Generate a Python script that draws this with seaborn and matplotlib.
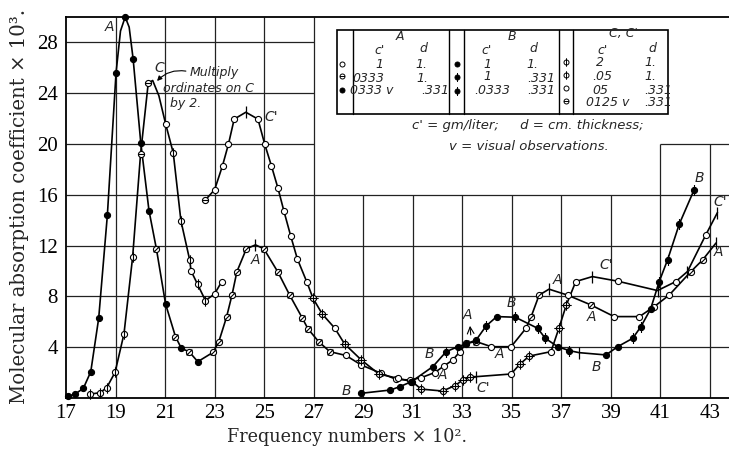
import matplotlib
matplotlib.use("Agg")
import matplotlib.pyplot as plt
import numpy as np
import pandas as pd
import seaborn as sns
from matplotlib.path import Path
from matplotlib.patches import Rectangle
from matplotlib.lines import Line2D

# ---------------- data ----------------
# marker codes: f filled, o open, s slashed circle, h barred circle, p circle+vertical tick,
# x circle+cross ticks, t filled+tick, n tick only, "-" curve point without mark
# Curve A
a_x = [17.1, 17.36, 17.7, 18.0, 18.32, 18.67, 19.02, 19.2, 19.39, 19.55, 19.71, 20.02, 20.35,
       20.65, 21.02, 21.42, 21.66, 21.97, 22.32, 22.94, 23.17, 23.48, 23.7, 23.9, 24.28, 24.65,
       24.99, 25.56, 26.03, 26.53, 26.77, 27.2, 27.65, 28.3, 28.92, 29.73, 30.33, 30.87,
       31.34, 31.88, 32.28, 32.62, 32.9, 33.15, 33.56, 34.17, 34.97, 35.57, 35.78, 36.1,
       36.5, 37.25, 38.19, 39.13, 40.15, 40.75, 41.35, 42.23, 42.7, 43.24]
a_y = [0.16, 0.3, 0.76, 2.07, 6.28, 14.4, 25.6, 28.9, 30.0, 29.2, 26.7, 20.07, 14.76,
       11.74, 7.4, 4.83, 3.9, 3.65, 2.86, 3.6, 4.44, 6.36, 8.1, 9.95, 11.74, 12.06,
       11.74, 9.9, 8.1, 6.33, 5.44, 4.44, 3.65, 3.35, 2.6, 1.94, 1.47, 1.42,
       1.6, 2.0, 2.55, 3.0, 3.65, 4.3, 4.44, 4.04, 4.04, 5.49, 6.41, 8.1,
       8.57, 8.1, 7.33, 6.41, 6.41, 7.2, 8.1, 9.96, 10.87, 12.2]
a_m = ["f", "f", "f", "f", "f", "f", "f", "-", "f", "-", "f", "f", "f",
       "s", "f", "s", "f", "s", "f", "s", "s", "s", "s", "s", "s", "n",
       "s", "s", "s", "s", "s", "s", "s", "o", "o", "o", "o", "o",
       "o", "o", "o", "o", "o", "s", "s", "o", "o", "o", "s", "s",
       "n", "o", "s", "o", "o", "o", "o", "s", "s", "n"]

# Curve B
b_x = [28.92, 30.1, 30.47, 30.94, 31.81, 32.35, 32.82, 33.15, 33.56, 33.96, 34.39, 35.14,
       36.04, 36.35, 36.85, 37.32, 37.72, 38.8, 39.27, 39.88, 40.21, 40.6, 40.95, 41.29,
       41.76, 42.36]
b_y = [0.37, 0.63, 0.89, 1.28, 2.47, 3.65, 4.04, 4.25, 4.57, 5.67, 6.41, 6.36,
       5.49, 4.7, 4.04, 3.73, 3.57, 3.39, 4.04, 4.7, 5.62, 7.0, 9.17, 10.9,
       13.7, 16.4]
b_m = ["f", "f", "f", "f", "f", "t", "f", "f", "f", "t", "f", "t",
       "t", "t", "f", "t", "n", "f", "f", "t", "t", "f", "t", "t",
       "t", "t"]

# Curve C (ordinates to be multiplied by 2)
c_x = [17.97, 18.37, 18.64, 18.98, 19.34, 19.69, 20.01, 20.32, 20.5, 20.75, 21.02, 21.33,
       21.64, 21.99, 22.05, 22.31, 22.63, 23.0, 23.28]
c_y = [0.3, 0.42, 0.8, 2.02, 5.04, 11.1, 19.2, 24.8, 25.0, 23.8, 21.6, 19.3,
       13.95, 10.9, 10.0, 8.96, 7.67, 8.2, 9.14]
c_m = ["p", "p", "p", "p", "p", "p", "h", "h", "-", "-", "o", "p",
       "p", "p", "o", "p", "p", "o", "o"]

# Curve C'
cp_x = [22.63, 23.0, 23.32, 23.56, 23.79, 24.26, 24.75, 25.02, 25.29, 25.56, 25.8, 26.07,
        26.34, 26.73, 26.97, 27.35, 27.85, 28.25, 28.92, 29.63, 30.4, 30.98, 31.34, 32.2,
        32.7, 33.02, 33.3, 33.56, 34.97, 35.33, 35.7, 36.58, 36.9, 37.2, 37.58, 38.25,
        39.27, 40.88, 41.62, 42.09, 42.83, 43.3]
cp_y = [15.6, 16.4, 18.3, 20.0, 21.96, 22.5, 21.96, 20.0, 18.3, 16.5, 14.7, 12.77,
        10.95, 9.1, 7.86, 6.6, 5.5, 4.25, 3.0, 1.89, 1.55, 1.28, 0.7, 0.55,
        0.97, 1.42, 1.68, 1.68, 1.89, 2.68, 3.3, 3.65, 5.5, 7.33, 9.17, 9.56,
        9.2, 8.46, 9.17, 9.96, 12.85, 14.6]
cp_m = ["h", "o", "o", "o", "o", "n", "o", "o", "o", "o", "o", "o",
        "o", "o", "x", "x", "o", "x", "x", "x", "o", "f", "x", "x",
        "x", "x", "x", "n", "o", "x", "x", "o", "x", "x", "o", "n",
        "o", "n", "o", "n", "o", "n"]

x_ticks = [17, 19, 21, 23, 25, 27, 29, 31, 33, 35, 37, 39, 41, 43]
y_ticks = [4, 8, 12, 16, 20, 24, 28]

curve_labels = [("A", 18.77, 29.2), ("C", 20.75, 26.0), ("C'", 25.3, 22.1),
                ("A", 24.66, 10.9), ("B", 28.3, 0.55), ("B", 31.68, 3.47),
                ("A", 32.2, 1.8), ("C'", 33.85, 0.76), ("A", 33.22, 6.5),
                ("B", 35.0, 7.45), ("A", 34.5, 3.47), ("A", 36.83, 9.3),
                ("C'", 38.8, 10.5), ("A", 38.2, 6.41), ("B", 38.4, 2.47),
                ("A", 43.35, 11.5), ("C'", 43.4, 15.47), ("B", 42.56, 17.3)]

# ---------------- styling ----------------
sns.set_theme(style="white")
plt.rcParams["font.family"] = ["Liberation Serif", "DejaVu Serif"]
HAND = dict(family="DejaVu Sans", style="italic")

W, H = 729, 454
fig = plt.figure(figsize=(W / 100, H / 100), dpi=100)
ax = fig.add_axes([66 / W, 1 - 398 / H, (W - 66) / W, (398 - 17) / H])
xmax = 17 + (W - 66) / 24.77
ax.set_xlim(17, xmax)
ax.set_ylim(0, 30)

# grid (partial, as in the reference)
gk = dict(color="#222222", lw=0.9, zorder=1)
ax.hlines([4, 8, 12, 16], 17, xmax, **gk)
ax.hlines([20, 24, 28], 17, 27, **gk)
ax.hlines([20], 41, xmax, **gk)
ax.vlines([19, 21, 23, 25, 27], 0, 30, **gk)
ax.vlines([29, 31, 33, 35, 37, 39], 0, 16, **gk)
ax.vlines([41, 43], 0, 20, **gk)

# marker shapes
circ = Path.unit_circle()
def comp(*segs):
    return Path.make_compound_path(circ, *[Path(s) for s in segs])
MK = {
    "f": (circ, "black"),
    "o": (circ, "white"),
    "s": (comp([(-0.95, -0.95), (0.95, 0.95)]), "white"),
    "h": (comp([(-1, 0), (1, 0)]), "white"),
    "p": (comp([(0, -1.7), (0, 1.7)]), "white"),
    "x": (comp([(0, -1.7), (0, 1.7)], [(-1.7, 0), (1.7, 0)]), "white"),
    "t": (comp([(0, -1.8), (0, 1.8)]), "black"),
}
BASE_MS = 4.4

def draw_markers(xs, ys, ms, target):
    for code in set(ms):
        if code == "-":
            continue
        px = [x for x, m in zip(xs, ms) if m == code]
        py = [y for y, m in zip(ys, ms) if m == code]
        if code == "n":
            target.plot(px, py, ls="none", marker="|", ms=8, mew=0.9, color="black",
                        zorder=4, clip_on=False)
            continue
        path, fc = MK[code]
        scale = np.abs(path.vertices).max()
        target.plot(px, py, ls="none", marker=path, ms=BASE_MS * scale, mfc=fc,
                    mec="black", mew=0.8, zorder=4, clip_on=False)

for xs, ys, ms in [(a_x, a_y, a_m), (b_x, b_y, b_m), (c_x, c_y, c_m), (cp_x, cp_y, cp_m)]:
    df = pd.DataFrame({"x": xs, "y": ys})
    sns.lineplot(data=df, x="x", y="y", sort=False, estimator=None, color="black",
                 lw=1.2, ax=ax, legend=False, zorder=3)
    draw_markers(xs, ys, ms, ax)
for ln in ax.lines:
    ln.set_clip_on(False)
    ln.set_solid_joinstyle("round")

for s, x, y in curve_labels:
    ax.text(x, y, s, ha="center", va="center", fontsize=10, zorder=6, **HAND)

# small arrow under the "A" near 33
ax.annotate("", xy=(33.3, 5.9), xytext=(33.35, 4.75),
            arrowprops=dict(arrowstyle="->", lw=0.8, color="black"))

# "Multiply ordinates on C by 2." note
NOTE = dict(ha="center", va="center", fontsize=9, **HAND)
ax.text(23.0, 25.6, "Multiply", **NOTE)
ax.text(22.75, 24.35, "ordinates on C", **NOTE)
ax.text(21.84, 23.2, "by 2.", **NOTE)
ax.annotate("", xy=(20.6, 24.8), xytext=(21.95, 25.7),
            arrowprops=dict(arrowstyle="-|>", lw=0.8, color="black", mutation_scale=7,
                            connectionstyle="arc3,rad=0.3"))

# axes / ticks
ax.set_xticks(x_ticks)
ax.set_xticklabels([str(v) for v in x_ticks])
ax.set_yticks(y_ticks)
ax.set_yticklabels([str(v) for v in y_ticks])
ax.tick_params(axis="both", length=0, labelsize=15, colors="black")
ax.tick_params(axis="x", pad=4)
ax.tick_params(axis="y", pad=6)
for side in ["left", "bottom", "top"]:
    ax.spines[side].set_color("black")
    ax.spines[side].set_linewidth(1.3)
ax.spines["right"].set_visible(False)
ax.set_xlabel("")
ax.set_ylabel("")

fig.text(347 / W, 1 - 437 / H, "Frequency numbers \u00d7 10\u00b2.", ha="center", va="center",
         fontsize=12.7, family="DejaVu Serif")
fig.text(20 / W, 1 - 206 / H, "Molecular absorption coefficient \u00d7 10\u00b3.", ha="center",
         va="center", rotation=90, fontsize=14.2, family="DejaVu Serif")

# ---------------- legend box ----------------
def fx(x):
    return x / W
def fy(y):
    return 1 - y / H

fig.add_artist(Rectangle((fx(337), fy(114)), (668 - 337) / W, (114 - 30) / H,
                         transform=fig.transFigure, fc="white", ec="black", lw=1.2, zorder=5))
for xd in [353, 449, 464, 559, 573]:
    fig.add_artist(Line2D([fx(xd), fx(xd)], [fy(30), fy(114)], transform=fig.transFigure,
                          color="black", lw=1.0, zorder=6))

leg_marks = [(342, 64, "o"), (342, 76, "h"), (342, 90, "f"),
             (457, 64, "f"), (457, 77, "t"), (457, 91, "t"),
             (566, 62, "p"), (566, 75, "p"), (566, 88, "o"), (566, 101, "h")]
for x, y, code in leg_marks:
    path, fc = MK[code]
    scale = np.abs(path.vertices).max()
    fig.add_artist(Line2D([fx(x)], [fy(y)], transform=fig.transFigure, ls="none",
                          marker=path, ms=3.6 * scale, mfc=fc, mec="black", mew=0.7, zorder=7))

leg_text = [("A", 400, 37), ("c'", 380, 50), ("d", 423, 49), ("1", 379, 64), ("1.", 421, 64),
            ("0333", 368, 78), ("1.", 422, 78), ("0333 v", 372, 91), (".331", 435, 91),
            ("B", 512, 37), ("c'", 487, 50), ("d", 533, 49), ("1", 487, 64), ("1.", 532, 64),
            ("1", 487, 77), (".331", 541, 78), (".0333", 492, 91), (".331", 541, 91),
            ("C, C'", 623, 33), ("c'", 603, 50), ("d", 652, 49), ("2", 600, 63), ("1.", 650, 63),
            (".05", 602, 77), ("1.", 650, 77), ("05", 600, 90), (".331", 658, 90),
            ("0125 v", 608, 103), (".331", 658, 103)]
for s, x, y in leg_text:
    fig.text(fx(x), fy(y), s, ha="center", va="center", fontsize=9, zorder=8, **HAND)

fig.text(fx(528), fy(125), "c' = gm/liter;     d = cm. thickness;", ha="center", va="center",
         fontsize=9.5, **HAND)
fig.text(fx(529), fy(147), "v = visual observations.", ha="center", va="center",
         fontsize=9.5, **HAND)

fig.savefig("out.png", dpi=100)
